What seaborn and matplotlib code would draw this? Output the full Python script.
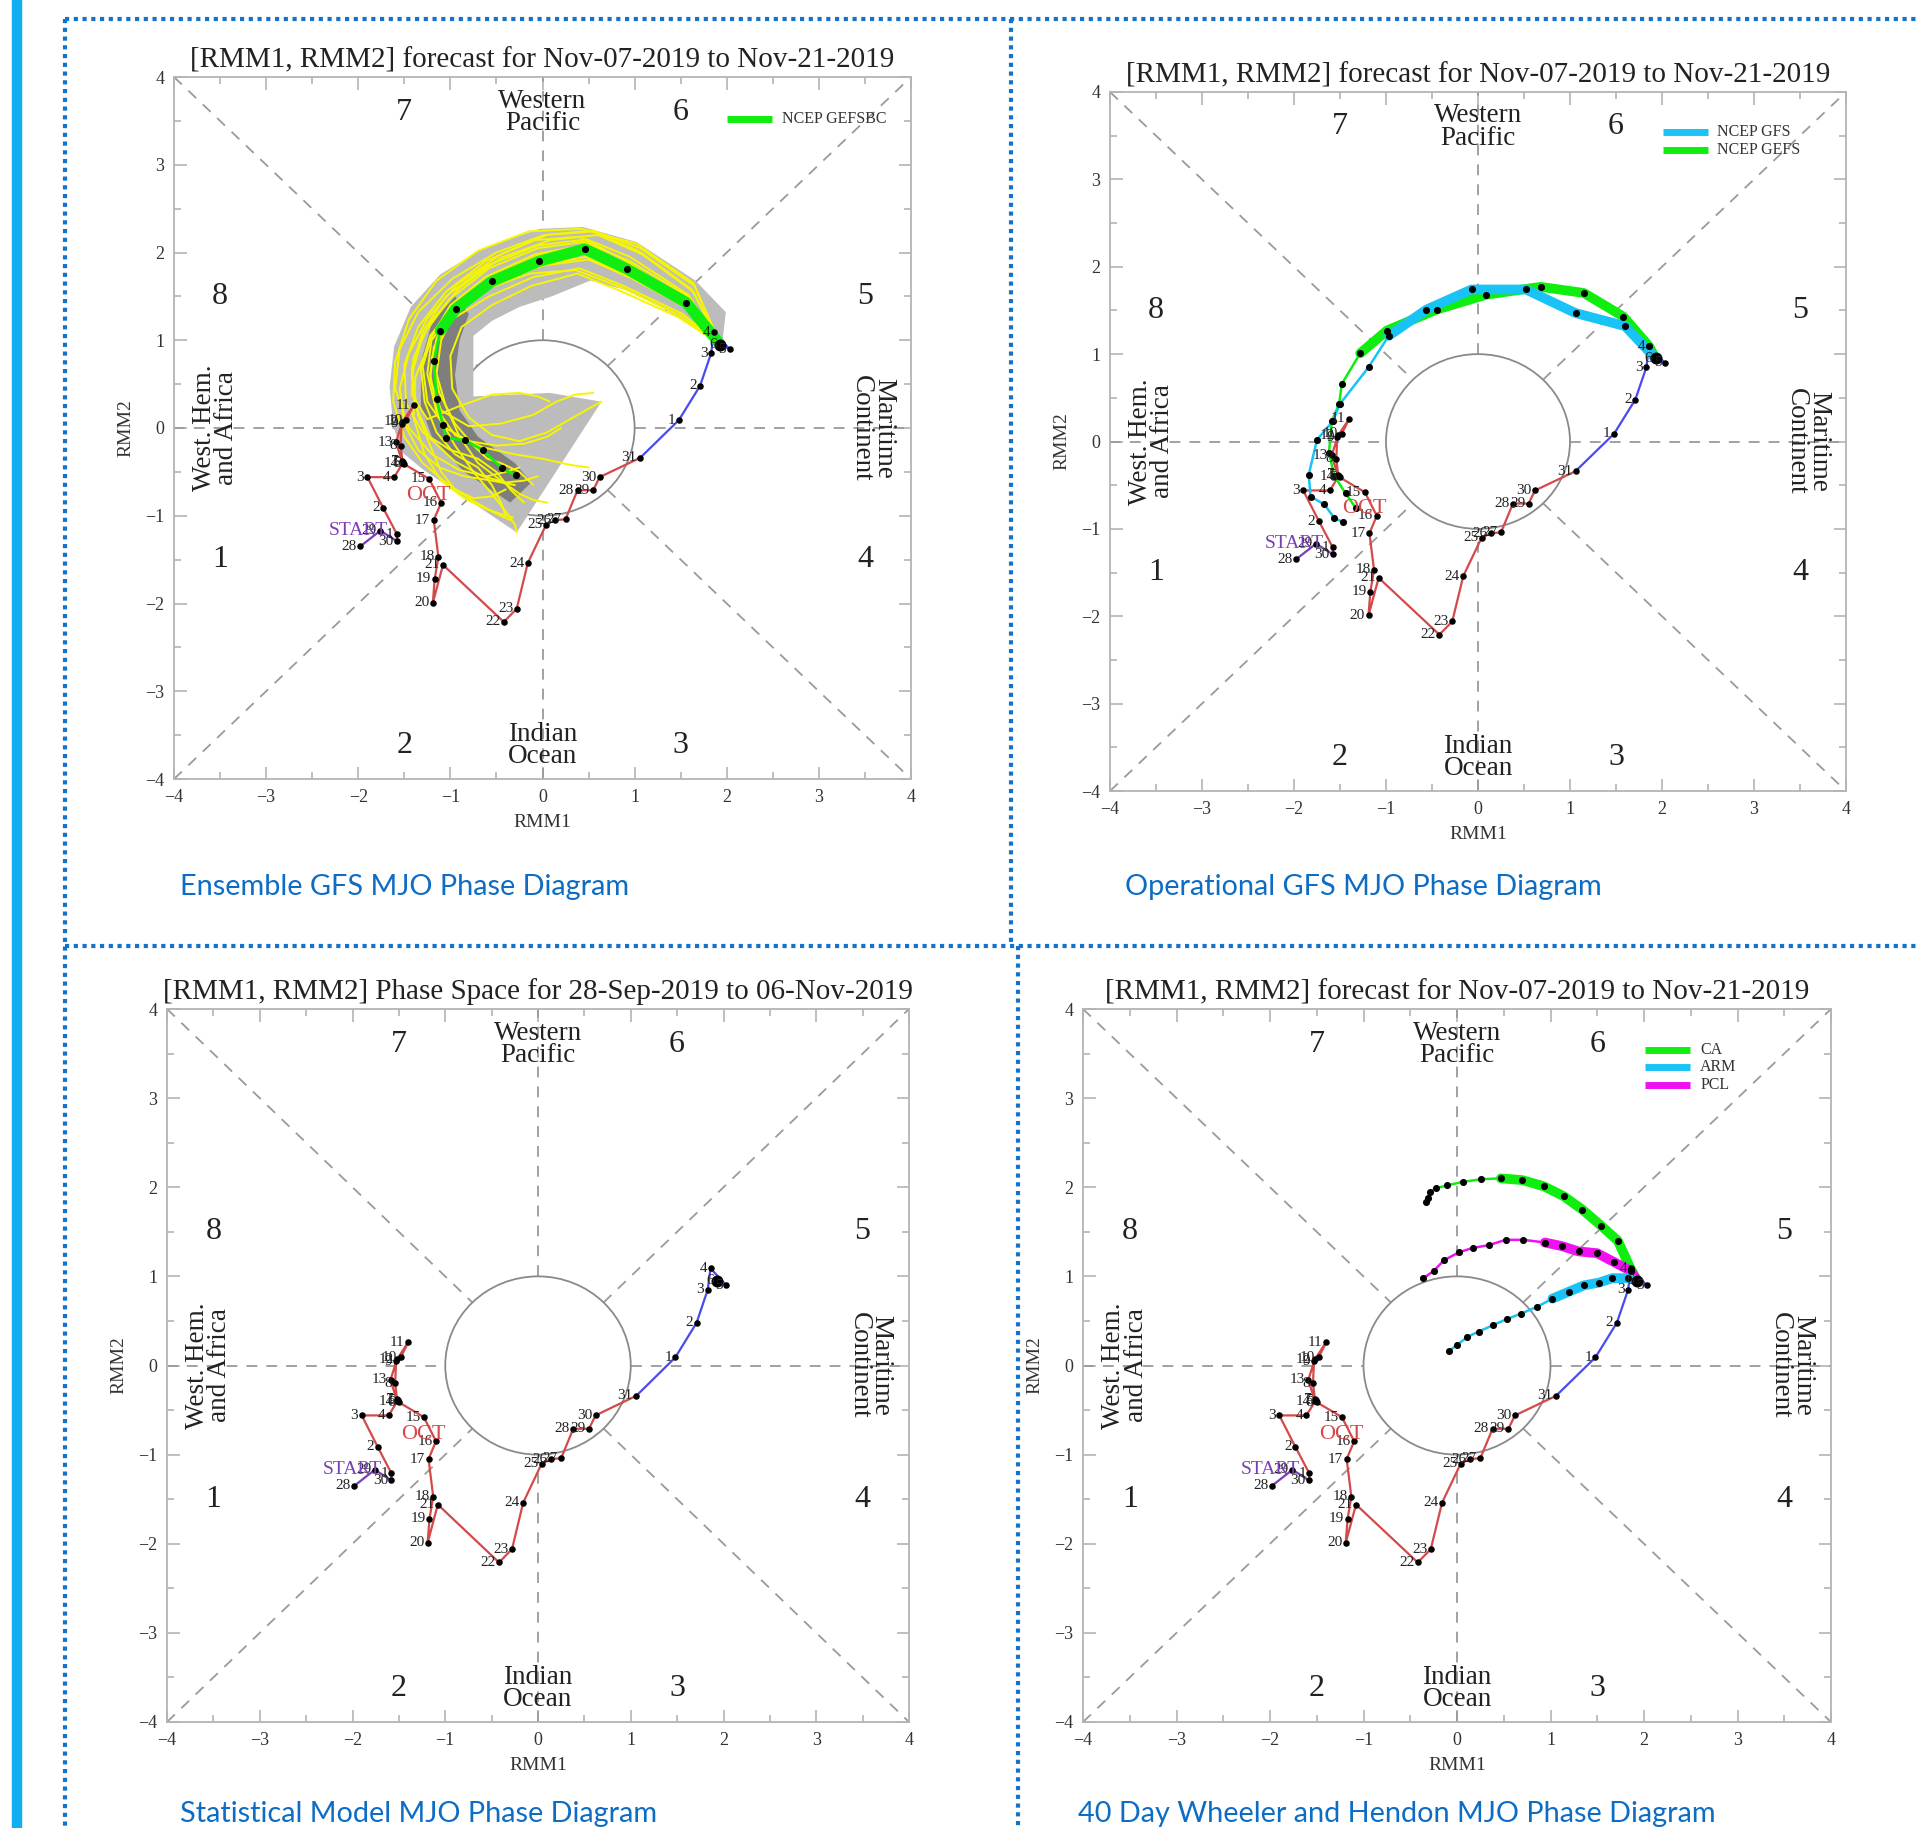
import numpy as np
import pandas as pd
import matplotlib
matplotlib.use("Agg")
import matplotlib.pyplot as plt
from matplotlib.lines import Line2D
from matplotlib.patches import Polygon, Circle
import seaborn as sns

sns.set_theme(style="white")
plt.rcParams["font.family"] = ["Liberation Serif", "DejaVu Serif"]

W, H = 1919, 1828

# ---------------- observed RMM trajectory (28 Sep - 06 Nov 2019) ----------------
sep_days = [28, 29, 30]
sep_rmm1 = [-1.98, -1.76, -1.58]
sep_rmm2 = [-1.35, -1.17, -1.29]

oct_days = list(range(1, 32))
oct_rmm1 = [-1.58, -1.73, -1.90, -1.61, -1.51, -1.50, -1.52, -1.54, -1.53, -1.48,
            -1.40, -1.52, -1.59, -1.52, -1.23, -1.10, -1.18, -1.13, -1.17, -1.19,
            -1.08, -0.42, -0.28, -0.16, 0.04, 0.14, 0.25, 0.38, 0.55, 0.62, 1.06]
oct_rmm2 = [-1.21, -0.91, -0.56, -0.56, -0.39, -0.41, -0.38, -0.20, 0.05, 0.09,
            0.26, 0.07, -0.16, -0.40, -0.58, -0.85, -1.05, -1.47, -1.72, -1.99,
            -1.56, -2.21, -2.06, -1.54, -1.10, -1.05, -1.04, -0.71, -0.71, -0.56, -0.34]

nov_days = [1, 2, 3, 4, 5, 6]
nov_rmm1 = [1.48, 1.71, 1.83, 1.86, 2.03, 1.93]
nov_rmm2 = [0.09, 0.48, 0.85, 1.09, 0.90, 0.95]

# ---------------- GEFS bias-corrected ensemble (07 - 21 Nov) ----------------
gefsbc_mean_rmm1 = [1.93, 1.56, 0.92, 0.46, -0.04, -0.55, -0.94, -1.11, -1.18, -1.15,
                    -1.08, -1.05, -0.84, -0.65, -0.44, -0.29]
gefsbc_mean_rmm2 = [0.95, 1.43, 1.81, 2.04, 1.90, 1.67, 1.36, 1.11, 0.76, 0.33,
                    0.03, -0.11, -0.14, -0.25, -0.46, -0.54]

member_rmm1 = [
    [1.93, 1.64, 1.02, 0.42, -0.15, -0.70, -1.15, -1.45, -1.60, -1.62, -1.50, -1.30, -1.05, -0.80, -0.55, -0.35],
    [1.93, 1.58, 0.95, 0.48, -0.05, -0.60, -1.05, -1.30, -1.42, -1.38, -1.22, -0.95, -0.65, -0.40, -0.20, -0.05],
    [1.93, 1.48, 0.85, 0.38, -0.12, -0.55, -0.88, -1.00, -0.98, -0.80, -0.55, -0.25, 0.05, 0.30, 0.50, 0.64],
    [1.93, 1.55, 0.90, 0.45, -0.08, -0.62, -1.00, -1.20, -1.25, -1.15, -0.95, -0.75, -0.55, -0.40, -0.30, -0.28],
    [1.93, 1.60, 0.98, 0.50, 0.00, -0.52, -0.95, -1.20, -1.30, -1.25, -1.05, -0.80, -0.50, -0.20, 0.05, 0.20],
    [1.93, 1.52, 0.88, 0.40, -0.10, -0.62, -1.05, -1.35, -1.50, -1.48, -1.30, -1.00, -0.70, -0.50, -0.35, -0.20],
    [1.93, 1.57, 0.93, 0.44, -0.02, -0.50, -0.90, -1.12, -1.20, -1.12, -0.95, -0.75, -0.60, -0.45, -0.25, -0.10],
    [1.93, 1.62, 1.04, 0.55, 0.05, -0.45, -0.92, -1.25, -1.45, -1.55, -1.50, -1.35, -1.12, -0.85, -0.55, -0.30],
    [1.93, 1.52, 0.88, 0.40, -0.10, -0.58, -0.98, -1.18, -1.22, -1.10, -0.80, -0.45, -0.10, 0.15, 0.35, 0.55],
    [1.93, 1.58, 0.95, 0.45, -0.05, -0.58, -1.02, -1.30, -1.42, -1.35, -1.20, -1.10, -0.95, -0.75, -0.55, -0.40],
    [1.93, 1.56, 0.92, 0.47, -0.03, -0.55, -0.95, -1.10, -1.15, -1.05, -0.90, -0.70, -0.45, -0.25, -0.10, 0.05],
    [1.93, 1.65, 1.06, 0.55, 0.02, -0.50, -0.98, -1.35, -1.55, -1.60, -1.45, -1.20, -0.90, -0.60, -0.40, -0.25],
    [1.93, 1.53, 0.90, 0.43, -0.06, -0.58, -0.98, -1.22, -1.32, -1.28, -1.15, -0.95, -0.70, -0.55, -0.45, -0.40],
    [1.93, 1.59, 0.97, 0.47, -0.02, -0.52, -0.92, -1.15, -1.22, -1.15, -0.95, -0.65, -0.30, 0.00, 0.30, 0.50],
    [1.93, 1.64, 1.08, 0.60, 0.08, -0.45, -0.90, -1.22, -1.40, -1.42, -1.25, -0.90, -0.55, -0.25, -0.05, 0.08],
    [1.93, 1.50, 0.86, 0.36, -0.14, -0.62, -0.98, -1.22, -1.38, -1.40, -1.28, -1.10, -0.85, -0.62, -0.45, -0.32],
]
member_rmm2 = [
    [0.95, 1.65, 2.10, 2.27, 2.24, 2.02, 1.68, 1.24, 0.75, 0.30, -0.10, -0.40, -0.62, -0.80, -0.95, -1.05],
    [0.95, 1.52, 1.95, 2.15, 2.08, 1.85, 1.50, 1.10, 0.68, 0.25, -0.12, -0.38, -0.55, -0.62, -0.60, -0.55],
    [0.95, 1.26, 1.56, 1.76, 1.62, 1.40, 1.15, 0.82, 0.45, 0.12, -0.08, -0.15, -0.05, 0.10, 0.22, 0.30],
    [0.95, 1.45, 1.85, 2.08, 1.98, 1.72, 1.40, 1.05, 0.62, 0.18, -0.20, -0.50, -0.75, -0.95, -1.10, -1.19],
    [0.95, 1.35, 1.70, 1.92, 1.85, 1.65, 1.38, 1.05, 0.70, 0.30, 0.00, -0.15, -0.20, -0.18, -0.10, 0.00],
    [0.95, 1.48, 1.92, 2.18, 2.14, 1.90, 1.55, 1.15, 0.72, 0.28, -0.05, -0.25, -0.35, -0.50, -0.70, -0.85],
    [0.95, 1.40, 1.78, 2.00, 1.90, 1.70, 1.42, 1.10, 0.80, 0.40, 0.05, -0.20, -0.35, -0.40, -0.50, -0.65],
    [0.95, 1.58, 2.02, 2.24, 2.20, 1.98, 1.64, 1.25, 0.85, 0.45, 0.05, -0.25, -0.45, -0.55, -0.60, -0.65],
    [0.95, 1.30, 1.62, 1.82, 1.72, 1.50, 1.24, 0.92, 0.55, 0.20, 0.02, 0.05, 0.15, 0.30, 0.38, 0.40],
    [0.95, 1.50, 1.90, 2.12, 2.05, 1.82, 1.46, 1.05, 0.60, 0.15, -0.25, -0.50, -0.70, -0.80, -0.78, -0.70],
    [0.95, 1.38, 1.74, 1.95, 1.85, 1.62, 1.32, 1.00, 0.62, 0.25, -0.10, -0.40, -0.60, -0.75, -0.82, -0.85],
    [0.95, 1.62, 2.05, 2.25, 2.20, 2.00, 1.70, 1.32, 0.90, 0.45, 0.00, -0.30, -0.48, -0.55, -0.50, -0.45],
    [0.95, 1.42, 1.80, 2.02, 1.92, 1.68, 1.38, 1.05, 0.68, 0.30, -0.05, -0.30, -0.45, -0.65, -0.85, -1.00],
    [0.95, 1.44, 1.82, 2.05, 1.98, 1.74, 1.40, 1.02, 0.62, 0.22, -0.08, -0.22, -0.30, -0.35, -0.42, -0.45],
    [0.95, 1.55, 1.98, 2.20, 2.14, 1.94, 1.60, 1.20, 0.80, 0.38, 0.10, 0.25, 0.38, 0.40, 0.36, 0.30],
    [0.95, 1.28, 1.60, 1.80, 1.76, 1.58, 1.30, 0.98, 0.58, 0.12, -0.30, -0.60, -0.80, -0.92, -0.98, -1.02],
]

# ensemble spread envelopes (90% and 50%)
spread90_rmm1 = [1.95, 1.99, 1.66, 1.02, 0.44, -0.03, -0.64, -1.11, -1.43, -1.61, -1.66, -1.62,
                 -1.52, -1.30, -0.28, 0.64, 0.08, -0.75, -0.75, -0.75, -0.55, -0.25, 0.10,
                 0.52, 0.95, 1.42, 1.78]
spread90_rmm2 = [0.95, 1.32, 1.68, 2.12, 2.29, 2.27, 2.05, 1.75, 1.38, 0.93, 0.47, 0.02,
                 -0.28, -0.47, -1.19, 0.30, 0.40, 0.36, 0.60, 1.05, 1.22, 1.38, 1.50,
                 1.68, 1.56, 1.30, 1.05]
spread50_rmm1 = [-0.95, -1.20, -1.32, -1.32, -1.20, -0.85, -0.35, -0.12, -0.30, -0.70, -0.90,
                 -0.95, -0.90, -0.80]
spread50_rmm2 = [1.50, 1.20, 0.75, 0.25, -0.10, -0.50, -0.85, -0.62, -0.40, -0.10, 0.20,
                 0.60, 1.00, 1.30]

# ---------------- operational GFS and GEFS mean ----------------
gfs_rmm1 = [1.93, 1.60, 1.06, 0.52, -0.07, -0.56, -0.97, -1.19, -1.50, -1.58, -1.75, -1.84,
            -1.82, -1.67, -1.56, -1.47]
gfs_rmm2 = [0.95, 1.32, 1.47, 1.74, 1.74, 1.51, 1.21, 0.85, 0.43, 0.23, 0.02, -0.38,
            -0.63, -0.72, -0.88, -0.92]
gefs_rmm1 = [1.93, 1.86, 1.58, 1.15, 0.68, 0.09, -0.45, -0.99, -1.28, -1.48, -1.51, -1.59,
             -1.62, -1.56, -1.44, -1.33]
gefs_rmm2 = [0.95, 1.09, 1.43, 1.70, 1.77, 1.68, 1.51, 1.27, 1.01, 0.66, 0.43, 0.23,
             -0.13, -0.40, -0.59, -0.76]

# ---------------- statistical forecasts (CA, ARM, PCL) ----------------
ca_rmm1 = [1.93, 1.86, 1.72, 1.54, 1.34, 1.14, 0.93, 0.70, 0.47, 0.26, 0.06, -0.11,
           -0.22, -0.29, -0.31, -0.33]
ca_rmm2 = [0.95, 1.08, 1.40, 1.57, 1.75, 1.90, 2.01, 2.08, 2.10, 2.09, 2.06, 2.02,
           1.99, 1.95, 1.88, 1.83]
arm_rmm1 = [1.93, 1.83, 1.66, 1.52, 1.36, 1.20, 1.02, 0.86, 0.68, 0.53, 0.38, 0.23,
            0.11, 0.00, -0.09]
arm_rmm2 = [0.95, 0.98, 0.98, 0.93, 0.90, 0.83, 0.75, 0.66, 0.58, 0.52, 0.45, 0.38,
            0.32, 0.23, 0.16]
pcl_rmm1 = [1.93, 1.86, 1.68, 1.50, 1.30, 1.12, 0.94, 0.71, 0.52, 0.34, 0.17, 0.02,
            -0.14, -0.25, -0.36]
pcl_rmm2 = [0.95, 1.06, 1.16, 1.26, 1.28, 1.34, 1.38, 1.41, 1.41, 1.35, 1.32, 1.27,
            1.18, 1.06, 0.98]

# ---------------- text ----------------
fcst_title = "[RMM1, RMM2] forecast for Nov-07-2019 to Nov-21-2019"
obs_title = "[RMM1, RMM2] Phase Space for 28-Sep-2019 to 06-Nov-2019"
captions = ["Ensemble GFS MJO Phase Diagram", "Operational GFS MJO Phase Diagram",
            "Statistical Model MJO Phase Diagram", "40 Day Wheeler and Hendon MJO Phase Diagram"]
phase_labels = ["1", "2", "3", "4", "5", "6", "7", "8"]
phase_x = [-3.5, -1.5, 1.5, 3.5, 3.5, 1.5, -1.5, -3.5]
phase_y = [-1.5, -3.62, -3.62, -1.5, 1.5, 3.6, 3.6, 1.5]
ticks = [-4, -3, -2, -1, 0, 1, 2, 3, 4]

C_RED = "#d44a4a"
C_PURPLE = "#7a3fb5"
C_BLUE = "#4a4af0"
C_GRID = "#9a9a9a"
C_FRAME = "#b4b4b4"
C_CAPTION = "#0d6cc4"
C_LIME = "#10ee10"
C_CYAN = "#19c3f5"
C_MAGENTA = "#f010f0"

fig = plt.figure(figsize=(W / 100, H / 100), dpi=100)
fig.patch.set_facecolor("white")


def add_ax(l, t, r, b):
    return fig.add_axes([l / W, 1 - b / H, (r - l) / W, (b - t) / H])


def frame(ax, title):
    ax.set_xlim(-4, 4)
    ax.set_ylim(-4, 4)
    ax.set_xticks(ticks)
    ax.set_yticks(ticks)
    ax.set_xticks(np.arange(-3.5, 4, 1), minor=True)
    ax.set_yticks(np.arange(-3.5, 4, 1), minor=True)
    ax.tick_params(which="both", direction="in", top=True, right=True, bottom=True, left=True,
                   color=C_FRAME, width=1.2, labelcolor="#333333", labelsize=13)
    ax.tick_params(which="major", length=9, pad=7)
    ax.tick_params(which="minor", length=5)
    for s in ax.spines.values():
        s.set_color(C_FRAME)
        s.set_linewidth(1.3)
    ax.set_xlabel("RMM1", fontsize=14, color="#333333", labelpad=6)
    ax.set_ylabel("RMM2", fontsize=14, color="#333333", labelpad=8)
    ax.set_title(title, fontsize=21, color="#222222", pad=7)

    # phase boundaries, broken inside the unit circle
    dash = dict(color=C_GRID, lw=1.3, ls=(0, (6, 5)), zorder=1)
    ax.plot([-4, -1], [0, 0], **dash)
    ax.plot([1, 4], [0, 0], **dash)
    ax.plot([0, 0], [-4, -1], **dash)
    ax.plot([0, 0], [1, 4], **dash)
    r = 1 / np.sqrt(2)
    ax.plot([-4, -r], [-4, -r], **dash)
    ax.plot([r, 4], [r, 4], **dash)
    ax.plot([-4, -r], [4, r], **dash)
    ax.plot([r, 4], [-r, -4], **dash)
    ax.add_patch(Circle((0, 0), 1, fill=False, ec="#8a8a8a", lw=1.3, zorder=2))

    for lab, px, py in zip(phase_labels, phase_x, phase_y):
        ax.text(px, py, lab, fontsize=23, ha="center", va="center", color="#222222")
    ax.text(0, 3.6, "Western\nPacific", fontsize=19.5, ha="center", va="center",
            linespacing=0.85, color="#222222")
    ax.text(0, -3.62, "Indian\nOcean", fontsize=19.5, ha="center", va="center",
            linespacing=0.85, color="#222222")
    ax.text(-3.55, 0, "West. Hem.\nand Africa", fontsize=19.5, ha="center", va="center",
            rotation=90, linespacing=0.85, color="#222222")
    ax.text(3.58, 0, "Maritime\nContinent", fontsize=19.5, ha="center", va="center",
            rotation=270, linespacing=0.85, color="#222222")


def line(ax, x, y, color, lw, z=4):
    sns.lineplot(x=x, y=y, sort=False, estimator=None, color=color, linewidth=lw,
                 ax=ax, zorder=z, legend=False)


def dots(ax, x, y, size=22, z=6):
    sns.scatterplot(x=x, y=y, color="black", s=size, linewidth=0, ax=ax, zorder=z,
                    legend=False)


def observed(ax):
    line(ax, sep_rmm1, sep_rmm2, C_PURPLE, 1.6)
    line(ax, [sep_rmm1[-1]] + oct_rmm1, [sep_rmm2[-1]] + oct_rmm2, C_RED, 1.6)
    line(ax, [oct_rmm1[-1]] + nov_rmm1, [oct_rmm2[-1]] + nov_rmm2, C_BLUE, 1.6)
    dots(ax, sep_rmm1 + oct_rmm1 + nov_rmm1[:-1], sep_rmm2 + oct_rmm2 + nov_rmm2[:-1], size=22)
    dots(ax, nov_rmm1[-1:], nov_rmm2[-1:], size=75)
    for days, xs, ys in ((sep_days, sep_rmm1, sep_rmm2), (oct_days, oct_rmm1, oct_rmm2),
                         (nov_days, nov_rmm1, nov_rmm2)):
        for d, xv, yv in zip(days, xs, ys):
            ax.annotate(str(d), (xv, yv), xytext=(-2.5, 0), textcoords="offset points",
                        ha="right", va="center", fontsize=11, color="#222222", zorder=7)
    ax.text(-2.0, -1.17, "START", fontsize=14, color=C_PURPLE, ha="center", va="center", zorder=7)
    ax.text(-1.24, -0.77, "OCT", fontsize=16, color=C_RED, ha="center", va="center", zorder=7)


def forecast(ax, x, y, color, n_thick, lw_thick=7, lw_thin=1.8):
    line(ax, x[:n_thick + 1], y[:n_thick + 1], color, lw_thick, z=4.5)
    line(ax, x[n_thick:], y[n_thick:], color, lw_thin, z=4.5)
    dots(ax, x[1:], y[1:], size=26, z=6.5)


def legend(ax, entries, y0, dy):
    for i, (lab, col) in enumerate(entries):
        yy = y0 - i * dy
        ax.add_line(Line2D([0.751, 0.812], [yy, yy], transform=ax.transAxes, color=col,
                           lw=5, solid_capstyle="butt", zorder=8))
        ax.text(0.825, yy, lab, transform=ax.transAxes, fontsize=11.5, va="center",
                ha="left", color="#333333", zorder=8)


# ---- panel 1: ensemble GFS ----
ax1 = add_ax(174, 77, 911, 779)
frame(ax1, fcst_title)
ax1.add_patch(Polygon(np.column_stack([spread90_rmm1, spread90_rmm2]), closed=True,
                      fc="#bcbcbc", ec="none", zorder=2.5))
ax1.add_patch(Polygon(np.column_stack([spread50_rmm1, spread50_rmm2]), closed=True,
                      fc="#7e7e7e", ec="none", zorder=2.6))
for mx, my in zip(member_rmm1, member_rmm2):
    line(ax1, mx, my, "#f6f600", 1.4, z=3)
observed(ax1)
forecast(ax1, gefsbc_mean_rmm1, gefsbc_mean_rmm2, C_LIME, 7, lw_thick=8, lw_thin=2)
legend(ax1, [("NCEP GEFSBC", C_LIME)], 0.940, 0.026)

# ---- panel 2: operational GFS ----
ax2 = add_ax(1110, 92, 1846, 791)
frame(ax2, fcst_title)
observed(ax2)
forecast(ax2, gefs_rmm1, gefs_rmm2, C_LIME, 8, lw_thick=7)
forecast(ax2, gfs_rmm1, gfs_rmm2, C_CYAN, 6, lw_thick=7)
legend(ax2, [("NCEP GFS", C_CYAN), ("NCEP GEFS", C_LIME)], 0.943, 0.026)

# ---- panel 3: statistical model (observations only) ----
ax3 = add_ax(167, 1009, 909, 1722)
frame(ax3, obs_title)
observed(ax3)

# ---- panel 4: CA / ARM / PCL ----
ax4 = add_ax(1083, 1009, 1831, 1722)
frame(ax4, fcst_title)
observed(ax4)
forecast(ax4, ca_rmm1, ca_rmm2, C_LIME, 8, lw_thick=7)
forecast(ax4, pcl_rmm1, pcl_rmm2, C_MAGENTA, 6, lw_thick=7)
forecast(ax4, arm_rmm1, arm_rmm2, C_CYAN, 6, lw_thick=7)
legend(ax4, [("CA", C_LIME), ("ARM", C_CYAN), ("PCL", C_MAGENTA)], 0.943, 0.025)

# ---- captions ----
for txt, (cx, cy) in zip(captions, [(180, 887), (1125, 887), (180, 1814), (1078, 1814)]):
    fig.text(cx / W, 1 - cy / H, txt, fontsize=20.8, color=C_CAPTION, ha="left", va="center",
             family=["Lato", "DejaVu Sans"])

# ---- page decoration: side bar and dotted panel separators ----
fig.add_artist(Line2D([17 / W, 17 / W], [0, 1], transform=fig.transFigure, color="#12aef0",
                      lw=7.5, solid_capstyle="butt"))
dotted = dict(transform=fig.transFigure, color="#1273c9", lw=3.0, ls=(0, (1, 1.1)),
              solid_capstyle="butt", dash_capstyle="butt")
fig.add_artist(Line2D([65 / W, 1], [1 - 18.5 / H, 1 - 18.5 / H], **dotted))
fig.add_artist(Line2D([65 / W, 65 / W], [1 - 18.5 / H, 0], **dotted))
fig.add_artist(Line2D([65 / W, 1], [1 - 946 / H, 1 - 946 / H], **dotted))
fig.add_artist(Line2D([1011 / W, 1011 / W], [1 - 18.5 / H, 1 - 946 / H], **dotted))
fig.add_artist(Line2D([1018 / W, 1018 / W], [1 - 946 / H, 0], **dotted))

fig.savefig("out.png", dpi=100, facecolor="white")
